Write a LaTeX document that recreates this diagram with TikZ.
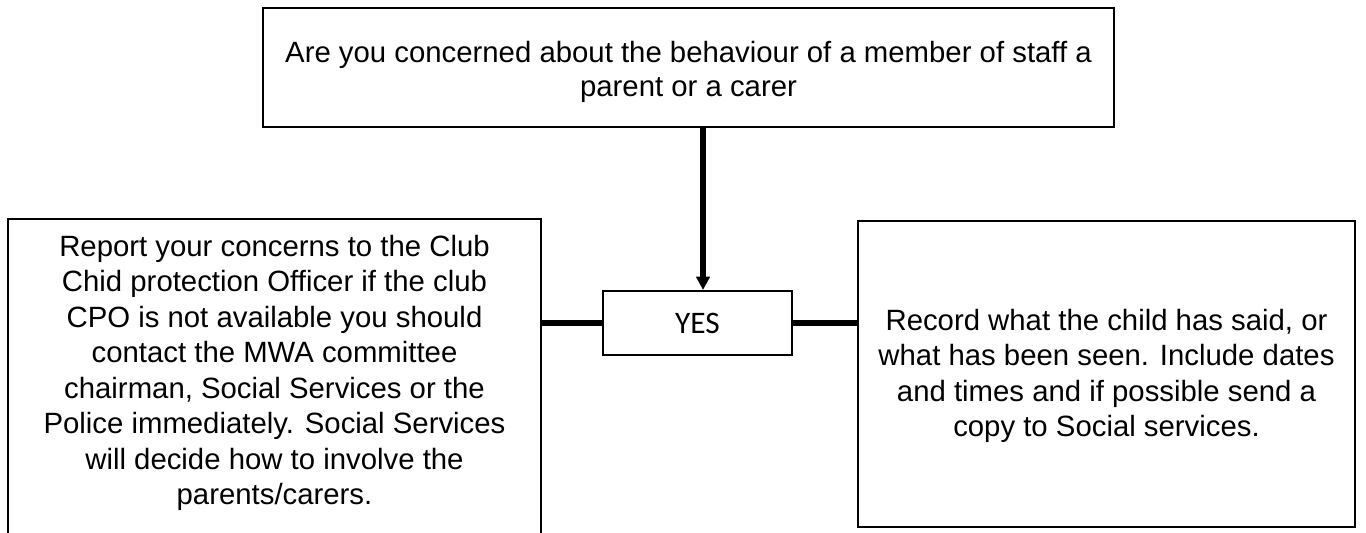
\documentclass[tikz,border=0pt]{standalone}
\usepackage{fontspec}
\setmainfont{Liberation Sans}
\newfontfamily\yesfont{Carlito}
\usetikzlibrary{arrows.meta}
\usetikzlibrary{positioning}
\newdimen\pxu
\pxu=0.75pt

\begin{document}
\begin{tikzpicture}[x=0.75pt,y=-0.75pt,
  box/.style={rectangle,draw=black,line width=1.6pt,fill=white,inner sep=0pt},
  txt/.style={align=center,inner sep=0pt,font=\fontsize{22}{26.6}\selectfont},
  conn/.style={draw=black,line width=4pt}]
\useasboundingbox (0,0) rectangle (1366,532);
\clip (0,0) rectangle (1366,532);
\node at (688.5,67.5)[box,minimum width=851\pxu,minimum height=119\pxu](concern){};
\node at (688.5,71.5)[txt,font=\fontsize{22}{25.5}\selectfont](concerntxt){Are you concerned about the behaviour of a member of staff a\\parent or a carer};
\node at (697.5,323)[box,minimum width=189\pxu,minimum height=64\pxu,font=\yesfont\fontsize{23.5}{28}\selectfont](yes){YES};
\node at (274.5,382)[box,minimum width=533\pxu,minimum height=326\pxu](report){};
\node at (274.5,373)[txt](reporttxt){Report your concerns to the Club\\Chid protection Officer if the club\\CPO is not available you should\\contact the MWA committee\\chairman, Social Services or the\\Police immediately. Social Services\\will decide how to involve the\\parents/carers.};
\node at (1106.5,374)[box,minimum width=497\pxu,minimum height=306\pxu](record){};
\node at (1106.5,376)[txt](recordtxt){Record what the child has said, or\\what has been seen. Include dates\\and times and if possible send a\\copy to Social services.};
\coordinate (drop) at (703,127);
\draw[conn,-{Triangle[width=10pt,length=10pt]}] (drop) -- (drop |- yes.north);
\draw[conn] (report.east |- yes.west) -- (yes.west);
\draw[conn] (yes.east) -- (record.west |- yes.east);
\end{tikzpicture}
\end{document}
